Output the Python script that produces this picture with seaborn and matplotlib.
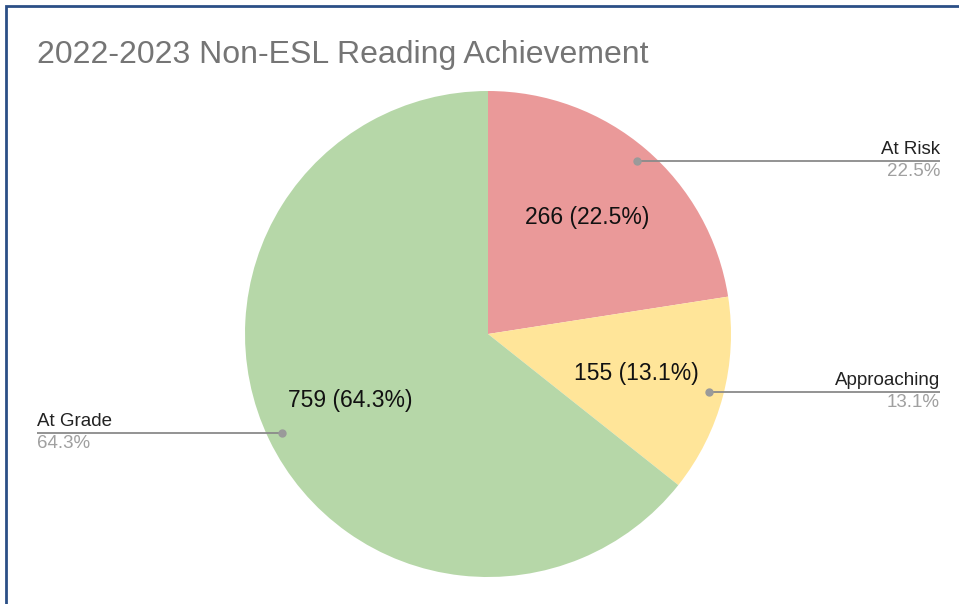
import numpy as np
import matplotlib
matplotlib.use("Agg")
import matplotlib.pyplot as plt
import seaborn as sns
from matplotlib.patches import Rectangle

# Data
categories = ["At Risk", "Approaching", "At Grade"]
counts = [266, 155, 759]
colors = ["#EA9999", "#FFE599", "#B6D7A8"]

sns.set_theme(style="white")
plt.rcParams['font.family'] = ['Liberation Sans', 'DejaVu Sans']

W, H = 959, 604
fig = plt.figure(figsize=(W / 100, H / 100), dpi=100)
ax = fig.add_axes([0, 0, 1, 1])

cx, cy, r = 488, H - 334, 243
total = sum(counts)
pcts = [c / total * 100 for c in counts]

wedges, texts, autotexts = ax.pie(
    counts, colors=colors, startangle=90, counterclock=False,
    center=(cx, cy), radius=r, pctdistance=0.63,
    autopct=lambda p: f"{round(p * total / 100):d} ({p:.1f}%)",
    textprops=dict(fontsize=16.5, color="#111111"),
    wedgeprops=dict(linewidth=0),
)
# pie resets the limits, so fix them afterwards (1 unit = 1 pixel)
ax.set_xlim(0, W)
ax.set_ylim(0, H)
ax.set_aspect("auto")
ax.axis("off")

# Leader lines with outside labels
for w, name, p in zip(wedges, categories, pcts):
    mid = np.deg2rad((w.theta1 + w.theta2) / 2)
    px = cx + 0.94 * r * np.cos(mid)
    py = cy + 0.94 * r * np.sin(mid)
    if px > cx:
        x_end, ha = 940, "right"
    else:
        x_end, ha = 37, "left"
    ax.plot([px, x_end], [py, py], color="#8a8a8a", lw=1.3, solid_capstyle="butt")
    ax.plot(px, py, "o", color="#9a9a9a", ms=5)
    ax.text(x_end, py + 3, name, ha=ha, va="bottom", fontsize=13.5, color="#222222")
    ax.text(x_end, py - 2, f"{p:.1f}%", ha=ha, va="top", fontsize=13.5, color="#a0a0a0")

# Title
fig.text(37 / W, 1 - 63 / H, "2022-2023 Non-ESL Reading Achievement",
         ha="left", va="baseline", fontsize=23, color="#757575")

# Frame border (top and left visible)
fig.patches.append(Rectangle((6 / W, -0.1), 1.2, (H - 6) / H + 0.1,
                             transform=fig.transFigure, fill=False,
                             edgecolor="#2B4F86", lw=2))

fig.savefig("out.png", dpi=100, facecolor="white")
